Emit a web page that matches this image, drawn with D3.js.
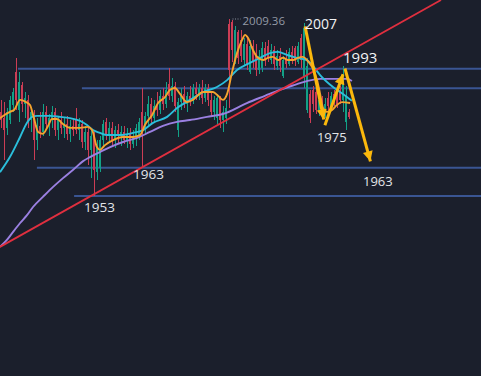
<!DOCTYPE html>
<html>
<head>
<meta charset="utf-8">
<script src="https://cdn.jsdelivr.net/npm/d3@7"></script>
<style>
  html, body { margin: 0; padding: 0; background: #1b1f2c; overflow: hidden; }
  svg { display: block; }
</style>
</head>
<body>
<script>
// candles, one per bar index 0..116
const open = [
  1979.8,1977.8,1974.7,1977.2,1982.0,1992.5,1980.4,1988.4,1982.3,1983.6,
  1977.2,1979.1,1970.8,1975.3,1973.4,1979.8,1975.9,1977.8,1979.8,1974.0,
  1977.2,1974.7,1975.9,1972.8,1975.3,1977.2,1974.0,1975.9,1970.2,1973.4,
  1967.7,1972.1,1960.6,1961.9,1970.8,1976.6,1972.8,1974.7,1970.8,1974.0,
  1972.1,1973.4,1970.8,1972.8,1969.6,1972.1,1972.1,1979.8,1974.0,1978.5,
  1982.3,1977.8,1981.7,1980.4,1984.9,1982.3,1988.7,1984.9,1988.0,1974.0,
  1982.9,1985.5,1982.3,1984.9,1983.6,1987.4,1985.5,1987.4,1984.2,1987.4,
  1983.6,1979.8,1977.8,1984.2,1977.2,1977.8,2007.8,2008.4,1995.7,2005.2,
  2002.7,1996.3,2001.4,1992.5,2000.8,1997.6,1993.1,1993.8,2000.1,2000.8,
  1996.3,1999.5,1994.4,1997.6,1991.2,1996.3,1995.0,1998.9,2000.1,1995.7,
  2003.3,1990.9,1980.4,1985.5,1986.8,1986.1,1979.8,1983.6,1978.5,1984.2,
  1981.0,1985.5,1986.1,1986.8,1983.6,1976.6,1979.8
];
const high = [
  1983.6,1982.9,1981.0,1984.9,1987.4,1997.0,1992.5,1989.3,1986.1,1985.2,
  1981.0,1980.4,1977.8,1979.8,1982.3,1981.7,1979.1,1981.7,1981.0,1978.5,
  1979.8,1977.8,1978.5,1977.2,1977.8,1981.0,1977.8,1977.2,1975.3,1974.7,
  1974.0,1973.4,1970.8,1972.1,1977.2,1977.8,1976.6,1976.6,1975.3,1975.9,
  1975.3,1975.3,1974.7,1974.7,1974.0,1975.9,1977.8,1987.4,1979.8,1984.9,
  1984.2,1983.6,1986.1,1986.8,1987.4,1989.3,1993.8,1990.6,1989.3,1984.2,
  1987.4,1988.0,1986.1,1988.0,1988.7,1989.3,1988.7,1989.9,1988.7,1988.7,
  1986.1,1984.9,1985.5,1984.9,1981.7,1983.6,2009.36,2009.1,2007.2,2005.9,
  2005.9,2003.3,2004.0,2002.7,2002.7,2001.4,1999.5,2002.0,2002.0,2002.7,
  2001.4,2000.8,1999.5,2000.1,1997.6,1999.5,2000.1,2000.8,2000.8,2002.0,
  2004.6,2008.1,1997.0,1986.8,1988.0,1987.4,1984.9,1984.9,1984.2,1986.1,
  1986.1,1986.8,1987.4,1988.0,1994.4,1988.0,1980.7
];
const low = [
  1974.7,1964.5,1972.4,1975.9,1979.8,1980.4,1976.6,1979.8,1977.8,1974.7,
  1973.4,1964.5,1967.7,1971.5,1972.1,1974.0,1972.1,1974.7,1972.1,1970.8,
  1972.8,1971.5,1970.8,1970.2,1972.1,1972.8,1970.8,1968.3,1967.7,1962.9,
  1958.7,1953.0,1958.1,1960.6,1968.9,1970.8,1970.2,1968.9,1968.3,1969.6,
  1968.9,1969.6,1968.3,1967.7,1968.3,1968.9,1970.8,1962.2,1972.8,1975.3,
  1975.9,1976.6,1978.5,1979.1,1980.4,1981.0,1983.6,1982.9,1979.8,1971.8,
  1980.4,1981.0,1979.8,1981.7,1982.3,1983.6,1983.6,1982.3,1982.9,1981.7,
  1978.5,1977.2,1975.9,1974.7,1973.4,1975.9,1981.0,1995.7,1995.0,1995.0,
  1995.7,1994.4,1993.1,1991.9,1993.8,1991.2,1991.9,1992.5,1994.4,1995.7,
  1995.0,1993.1,1993.1,1992.5,1990.6,1993.8,1994.4,1995.0,1994.4,1995.0,
  1993.8,1987.4,1979.4,1976.3,1979.8,1979.1,1978.5,1977.8,1977.8,1979.8,
  1980.4,1981.7,1981.0,1982.3,1979.8,1974.0,1977.5
];
const close = [
  1977.2,1974.0,1979.8,1983.6,1986.1,1983.6,1989.3,1982.3,1984.2,1976.6,
  1979.8,1970.8,1975.6,1973.4,1979.8,1975.9,1977.8,1979.8,1974.0,1977.2,
  1974.7,1975.9,1972.8,1975.3,1974.0,1974.0,1975.9,1970.2,1973.4,1967.7,
  1972.1,1961.3,1969.2,1970.8,1975.9,1972.8,1974.7,1970.8,1974.0,1972.1,
  1973.4,1970.8,1972.8,1969.6,1972.1,1974.7,1976.6,1974.0,1978.5,1982.3,
  1977.8,1981.7,1980.4,1984.9,1982.3,1986.8,1984.9,1988.0,1981.7,1982.9,
  1985.5,1982.3,1984.9,1983.6,1987.4,1985.5,1987.4,1984.2,1987.4,1983.6,
  1979.8,1983.6,1984.2,1977.2,1979.8,1981.0,1993.1,1999.5,2005.9,1997.0,
  1997.6,2001.4,1995.0,2000.8,1995.7,1993.1,1997.6,2000.1,1996.3,1997.0,
  1999.5,1995.0,1997.6,1994.4,1996.3,1995.0,1998.9,1996.3,1996.3,2000.8,
  1996.3,2006.5,1994.4,1977.8,1982.3,1980.4,1983.6,1979.1,1982.3,1981.7,
  1984.9,1982.9,1982.3,1983.6,1991.9,1984.9,1978.2
];

// moving averages: [bar index, value]
const maFast = [
  [-0.5,1977.8],[2.8,1979.8],[4.2,1980.4],[6.2,1983.6],[8.2,1982.9],[9.5,1982.0],
  [10.8,1977.8],[12.2,1973.4],[13.8,1972.8],[15.5,1975.3],[16.8,1977.5],[18.5,1977.5],
  [20.5,1975.9],[22.8,1974.7],[26.2,1974.7],[28.8,1975.0],[30.2,1974.0],[31.8,1968.6],
  [32.8,1967.7],[34.5,1969.2],[37.2,1970.8],[40.5,1971.8],[43.8,1971.8],[46.2,1972.4],
  [47.8,1975.6],[50.2,1978.8],[52.2,1982.6],[54.5,1984.5],[56.2,1986.8],[57.8,1987.4],
  [59.5,1985.5],[61.8,1982.9],[63.8,1983.6],[67.2,1986.1],[70.5,1986.1],[72.2,1984.9],
  [73.8,1983.6],[75.2,1985.5],[76.8,1992.2],[78.5,1998.5],[80.2,2002.7],[81.2,2004.3],
  [82.2,2003.3],[83.8,1999.5],[85.5,1997.0],[87.2,1996.3],[88.8,1997.0],[90.5,1997.3],
  [92.2,1996.3],[93.8,1997.0],[95.5,1996.3],[97.2,1996.3],[98.8,1997.0],[100.5,1997.3],
  [101.8,1996.3],[103.5,1994.1],[105.2,1989.9],[106.2,1985.5],[107.2,1981.0],[108.5,1979.8],
  [110.2,1980.4],[111.8,1982.0],[113.5,1982.9],[116.2,1982.6]
];
const maMid = [
  [-0.5,1960.6],[2.8,1965.4],[6.2,1971.8],[8.5,1976.3],[10.2,1978.2],[11.8,1978.5],
  [16.2,1978.5],[19.5,1978.2],[22.8,1977.8],[26.2,1976.9],[28.5,1975.6],[30.5,1974.0],
  [32.8,1973.1],[35.2,1972.4],[39.5,1972.4],[43.8,1973.1],[47.2,1974.0],[50.5,1976.3],
  [55.2,1978.2],[58.5,1981.0],[62.8,1983.6],[67.2,1986.1],[71.8,1987.7],[75.2,1989.9],
  [78.5,1993.1],[82.8,1995.4],[86.2,1997.0],[89.5,1998.5],[92.2,1998.9],[95.2,1997.9],
  [98.5,1997.0],[101.8,1996.3],[103.8,1994.4],[106.2,1991.5],[110.5,1987.7],[113.8,1985.5],
  [116.8,1983.3]
];
const maSlow = [
  [-0.5,1936.8],[1.8,1939.0],[3.8,1941.5],[6.2,1944.4],[8.5,1946.9],[10.5,1949.5],
  [13.8,1952.7],[17.2,1955.9],[20.5,1958.7],[23.8,1961.3],[27.2,1964.1],[29.5,1965.4],
  [32.8,1967.0],[36.2,1968.6],[40.5,1970.2],[45.2,1971.5],[49.5,1973.4],[53.8,1975.3],
  [58.5,1976.6],[62.8,1977.2],[68.5,1978.2],[73.8,1979.1],[81.8,1982.6],[87.8,1984.9],
  [92.8,1986.8],[97.8,1988.4],[101.8,1989.6],[106.2,1990.3],[115.2,1990.3],[116.8,1989.6]
];

// horizontal levels and where they start
const levelPrice = [1993.5, 1987.3, 1962.0, 1953.0];
const levelFrom  = [5.5, 26.8, 11.8, 24.2];

// rising trend line through two anchors
const trendIdx   = [-0.5, 146.5];
const trendPrice = [1936.8, 2015.4];

// wave arrows 2007 -> 1975 -> 1993 -> 1963
const waveIdx   = [101.2, 107.8, 114.5, 123.5];
const wavePrice = [2007, 1975.5, 1993.6, 1962.2];

// text labels
const labelText  = ["2007", "1993", "1975", "1963", "1963", "1953"];
const labelIdx   = [101.2, 114.5, 107.8, 123.5, 47, 31];
const labelPrice = [2007, 1993.6, 1975.5, 1962.2, 1962.2, 1953];
const highText = "2009.36";
const highIdx  = 76;
const highPrice = 2009.36;

const width = 481;
const height = 376;
const upColor = "#12a187";
const downColor = "#cc3d55";

const svg = d3.select("body")
  .append("svg")
  .attr("width", width)
  .attr("height", height);

svg.append("rect")
  .attr("width", width)
  .attr("height", height)
  .attr("fill", "#1b1f2c");

const x = d3.scaleLinear().domain([-0.5, 146.5]).range([0, 441]);
const y = d3.scaleLinear().domain([1953, 2009.36]).range([196, 19]);

// levels
svg.selectAll("line.level")
  .data(levelPrice)
  .enter()
  .append("line")
  .attr("class", "level")
  .attr("x1", (d, i) => x(levelFrom[i]))
  .attr("x2", width)
  .attr("y1", d => y(d))
  .attr("y2", d => y(d))
  .attr("stroke", "#3a5593")
  .attr("stroke-width", 2);

// candles
const candles = open.map((o, i) => ({ i, o, h: high[i], l: low[i], c: close[i] }));
const cg = svg.append("g").attr("shape-rendering", "crispEdges");
const col = d => d.c >= d.o ? upColor : downColor;

cg.selectAll("line")
  .data(candles)
  .enter()
  .append("line")
  .attr("x1", d => x(d.i))
  .attr("x2", d => x(d.i))
  .attr("y1", d => y(d.h))
  .attr("y2", d => y(d.l))
  .attr("stroke", col)
  .attr("stroke-width", 1);

cg.selectAll("rect")
  .data(candles)
  .enter()
  .append("rect")
  .attr("x", d => x(d.i) - 1.5)
  .attr("width", 2)
  .attr("y", d => y(Math.max(d.o, d.c)))
  .attr("height", d => Math.max(1, Math.abs(y(d.o) - y(d.c))))
  .attr("fill", col);

// moving averages
const maLine = d3.line()
  .x(d => x(d[0]))
  .y(d => y(d[1]))
  .curve(d3.curveMonotoneX);

[[maSlow, "#9b80e2"], [maMid, "#2bbfdc"], [maFast, "#f5a32e"]].forEach(([data, c]) => {
  svg.append("path")
    .attr("d", maLine(data))
    .attr("fill", "none")
    .attr("stroke", c)
    .attr("stroke-width", 1.9);
});

// trend line
svg.append("line")
  .attr("x1", x(trendIdx[0]))
  .attr("y1", y(trendPrice[0]))
  .attr("x2", x(trendIdx[1]))
  .attr("y2", y(trendPrice[1]))
  .attr("stroke", "#e02f3f")
  .attr("stroke-width", 1.8);

// wave arrows
const gold = "#fbb80c";
svg.append("defs").append("marker")
  .attr("id", "head")
  .attr("viewBox", "0 0 10 10")
  .attr("refX", 10)
  .attr("refY", 5)
  .attr("markerWidth", 11)
  .attr("markerHeight", 10)
  .attr("markerUnits", "userSpaceOnUse")
  .attr("orient", "auto")
  .append("path")
  .attr("d", "M0,0 L10,5 L0,10 z")
  .attr("fill", gold);

const wavePts = waveIdx.map((v, i) => [x(v), y(wavePrice[i])]);
d3.pairs(wavePts).forEach(([a, b]) => {
  const dx = b[0] - a[0], dy = b[1] - a[1];
  const len = Math.hypot(dx, dy);
  const k = (len - 6) / len;
  svg.append("line")
    .attr("x1", a[0])
    .attr("y1", a[1])
    .attr("x2", a[0] + dx * k)
    .attr("y2", a[1] + dy * k)
    .attr("stroke", gold)
    .attr("stroke-width", 3)
    .attr("marker-end", "url(#head)");
});

// high label
const hx = x(highIdx), hy = y(highPrice);
svg.append("line")
  .attr("x1", hx + 3)
  .attr("x2", hx + 11)
  .attr("y1", hy)
  .attr("y2", hy)
  .attr("stroke", "#8a909c")
  .attr("stroke-width", 1)
  .attr("stroke-dasharray", "1,1.5");
svg.append("text")
  .attr("x", hx + 13)
  .attr("y", hy + 6)
  .attr("fill", "#939aa6")
  .attr("font-family", "'Open Sans', sans-serif")
  .attr("font-size", 11.5)
  .text(highText);

// wave / level labels
const labelOffset = [[0, 2.5], [-2, -5], [-8, 17], [-9, 19], [-9.5, 12], [-10.5, 16]];
const labelSize = [14, 15, 13, 13, 13.5, 13.5];

svg.selectAll("text.lab")
  .data(labelText)
  .enter()
  .append("text")
  .attr("class", "lab")
  .attr("x", (d, i) => x(labelIdx[i]) + labelOffset[i][0])
  .attr("y", (d, i) => y(labelPrice[i]) + labelOffset[i][1])
  .attr("fill", (d, i) => i < 2 ? "#f2f3f5" : "#e2e4e8")
  .attr("font-family", "'Open Sans', sans-serif")
  .attr("font-size", (d, i) => labelSize[i])
  .text(d => d);
</script>
</body>
</html>
